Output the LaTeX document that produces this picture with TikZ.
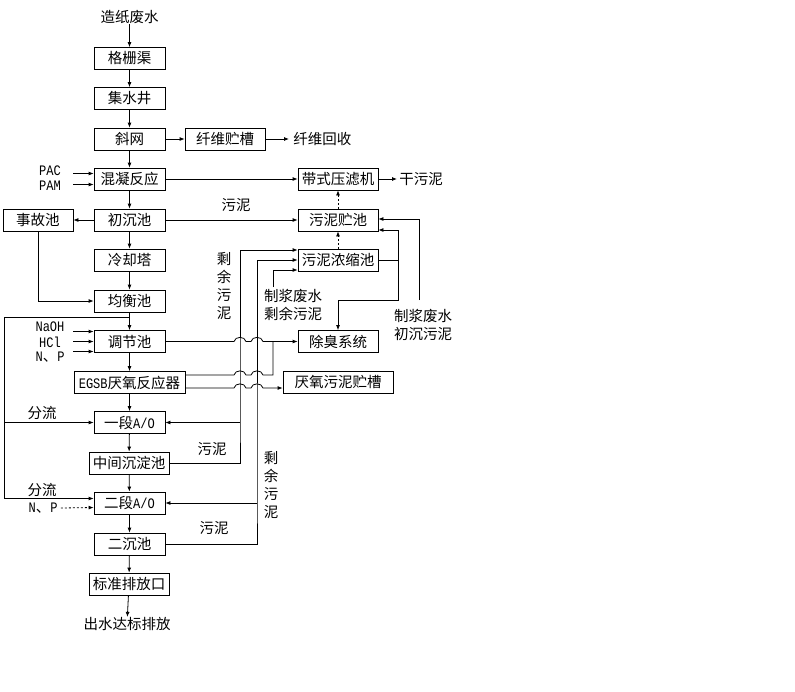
\documentclass[tikz,border=0pt]{standalone}
\usepackage{fontspec}
\setmainfont{Noto Sans CJK SC}
\newfontfamily\latfont[FakeStretch=0.83]{Liberation Mono}
\usetikzlibrary{arrows.meta}
\newcommand\ltxt[1]{{\latfont\fontsize{14.5pt}{14.5pt}\selectfont #1}}

\begin{document}
\begin{tikzpicture}[x=1pt, y=-1pt,
			>={Latex[length=5pt,width=4pt]},
			line width=0.8pt,
			proc/.style={draw, rectangle, minimum width=71, minimum height=22, inner sep=0pt},
			wide/.style={proc, minimum width=80},
			lbl/.style={inner sep=0pt},
			vlbl/.style={inner sep=0pt, align=center, font=\fontsize{14.5pt}{18pt}\selectfont},
			chem/.style={inner sep=0pt, font=\latfont\fontsize{14.5pt}{14.5pt}\selectfont},
			dots/.style={dash pattern=on 2pt off 2pt},
			font=\fontsize{14.5pt}{16pt}\selectfont
			]
			\useasboundingbox (0,0) rectangle (795,691);
			
			% main line
			\node[lbl] (src) at (129.5,17) {造纸废水};
			\node[proc] (geshan) at (129.5,58.5) {格栅渠};
			\node[proc] (jishui) at (129.5,98.5) {集水井};
			\node[proc] (xiewang) at (129.5,139) {斜网};
			\node[proc] (hunning) at (129.5,179) {混凝反应};
			\node[proc] (chuchen) at (129.5,220) {初沉池};
			\node[proc] (lengque) at (129.5,260) {冷却塔};
			\node[proc] (junheng) at (129.5,301) {均衡池};
			\node[proc] (tiaojie) at (129.5,341.5) {调节池};
			\node[proc, minimum width=111] (egsb) at (129.5,382.5) {\ltxt{EGSB}厌氧反应器};
			\node[proc] (yiduan) at (129.5,422.5) {一段\ltxt{A/O}};
			\node[wide] (zhongjian) at (129,463) {中间沉淀池};
			\node[proc] (erduan) at (129.5,503) {二段\ltxt{A/O}};
			\node[proc] (erchen) at (129.5,544) {二沉池};
			\node[wide] (biaozhun) at (129,584) {标准排放口};
			\node[lbl] (out) at (127,624) {出水达标排放};
			
			\foreach \a/\b in {src/geshan, geshan/jishui, jishui/xiewang, xiewang/hunning,
				hunning/chuchen, chuchen/lengque, lengque/junheng, junheng/tiaojie,
				tiaojie/egsb, egsb/yiduan, yiduan/zhongjian, zhongjian/erduan,
				erduan/erchen, erchen/biaozhun, biaozhun/out}
				\draw[->] (\a) -- (\b);
			
			% side boxes
			\node[wide] (xianwei) at (225,139) {纤维贮槽};
			\node[lbl, anchor=west] (xwhs) at (293,139) {纤维回收};
			\node[wide] (daishi) at (338,179) {带式压滤机};
			\node[lbl, anchor=west] (gwn) at (399,179) {干污泥};
			\node[proc, minimum width=70] (shigu) at (38,220) {事故池};
			\node[wide] (wnzc) at (338,220) {污泥贮池};
			\node[wide] (wnns) at (338,260) {污泥浓缩池};
			\node[wide] (chuchou) at (338,341.5) {除臭系统};
			\node[proc, minimum width=110] (yyzc) at (338,382.5) {厌氧污泥贮槽};
			
			\draw[->] (xiewang) -- (xianwei);
			\draw[->] (xianwei) -- ([xshift=-4pt]xwhs.west);
			\draw[->] (hunning) -- (daishi);
			\draw[->] (daishi) -- ([xshift=-2pt]gwn.west);
			\draw[->] (chuchen) -- (shigu);
			\draw[->] (chuchen) -- (wnzc);
			\node[lbl] at (236,205) {污泥};
			\draw[->] (shigu.south) |- (junheng.west);
			\draw[->, dots] (wnns.north) -- (wnzc.south);
			\draw[->, dots] (wnzc.north) -- (daishi.south);
			
			% dosing
			\coordinate (feed) at (73,0);
			\node[chem] (pac) at (50,171) {PAC};
			\node[chem] (pam) at (50,186) {PAM};
			\draw[->] ([yshift=5.5pt]hunning.west -| feed) -- ([yshift=5.5pt]hunning.west);
			\draw[->] ([yshift=-5.5pt]hunning.west -| feed) -- ([yshift=-5.5pt]hunning.west);
			\node[chem] (naoh) at (50,327) {NaOH};
			\node[chem] (hcl) at (50,342) {HCl};
			\node[lbl] (np1) at (50,357) {\ltxt{N}、\ltxt{P}};
			\draw[->] ([yshift=10pt]tiaojie.west -| feed) -- ([yshift=10pt]tiaojie.west);
			\draw[->] (tiaojie.west -| feed) -- (tiaojie.west);
			\draw[->] ([yshift=-10pt]tiaojie.west -| feed) -- ([yshift=-10pt]tiaojie.west);
			
			% split flow
			\coordinate (jl) at (129.5,317);
			\coordinate (lx) at (4,317);
			\draw[->] (jl) -- (lx) |- ([yshift=4.5pt]erduan.west);
			\draw[->] (lx |- yiduan.west) -- (yiduan.west);
			\node[lbl] at (42,413) {分流};
			\node[lbl] at (42,490) {分流};
			\node[lbl] (np2) at (43,508) {\ltxt{N}、\ltxt{P}};
			\draw[->, dots] ([xshift=3pt]np2.east) -- ([yshift=-4.5pt]erduan.west);
			
			% sludge lines
			\coordinate (ja) at (240,422.5);
			\coordinate (jb) at (257,503);
			\draw[->] (zhongjian.east) -| (ja) |- ([yshift=10pt]wnns.west);
			\draw[->] (ja) -- (yiduan.east);
			\node[lbl] at (212,449) {污泥};
			\draw[->] (erchen.east) -| (jb) |- (wnns.west);
			\draw[->] (jb) -- (erduan.east);
			\node[lbl] at (214,528) {污泥};
			\node[vlbl] at (224,286) {剩\\余\\污\\泥};
			\node[vlbl] at (271,485) {剩\\余\\污\\泥};
			
			\coordinate (jz) at (273,287);
			\draw[->] (jz) |- ([yshift=-10pt]wnns.west);
			\node[vlbl] at (293,305) {制浆废水\\剩余污泥};
			
			\coordinate (jd) at (398,230);
			\coordinate (je) at (398,300);
			\draw[->] (wnns.east) -| (jd) -- ([yshift=-10pt]wnzc.east);
			\draw[->] (jd) -- (je) -| (chuchou.north);
			\coordinate (jf) at (419,300);
			\draw[->] (jf) |- ([yshift=1pt]wnzc.east);
			\node[vlbl] at (423,325) {制浆废水\\初沉污泥};
			
			% crossings
			\coordinate (jc) at (273,341.5);
			\draw[->] (tiaojie.east) -- (234,341.5) .. controls (235,336) and (245,336) .. (246,341.5)
				-- (251,341.5) .. controls (252,336) and (262,336) .. (263,341.5) -- (chuchou.west);
			\draw ([yshift=7.5pt]egsb.east) -- (234,375) .. controls (235,369.5) and (245,369.5) .. (246,375)
				-- (251,375) .. controls (252,369.5) and (262,369.5) .. (263,375) -| (jc);
			\draw[->] ([yshift=-5.5pt]egsb.east) -- (234,388) .. controls (235,382.5) and (245,382.5) .. (246,388)
				-- (251,388) .. controls (252,382.5) and (262,382.5) .. (263,388) -- ([yshift=-5.5pt]yyzc.west);
			
		\end{tikzpicture}
\end{document}
